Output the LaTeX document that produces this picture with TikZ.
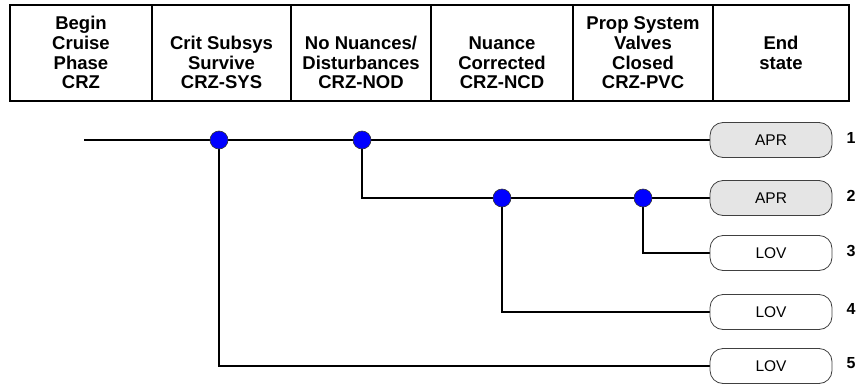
\documentclass[tikz,border=0pt]{standalone}
\usepackage{fontspec}
\setmainfont{Liberation Sans}
\usetikzlibrary{positioning}
\pgfdeclarelayer{bg}
\pgfsetlayers{bg,main}
\newcommand\hstrut{\rule{0pt}{14pt}}
\begin{document}
\begin{tikzpicture}[x=1pt,y=-1pt,
  hframe/.style={draw=black,line width=2.6pt},
  hdr/.style={font=\fontsize{18.5}{19.7}\selectfont\bfseries,align=center,anchor=north,inner sep=0pt},
  branch/.style={draw=black,line width=2pt},
  evdot/.style={circle,draw=black!80,line width=0.6pt,fill=blue,minimum size=18pt,inner sep=0pt},
  endbox/.style={draw=black!75,line width=0.8pt,rounded corners=13pt,minimum width=122pt,minimum height=35pt,inner sep=0pt,font=\fontsize{15.5}{17}\selectfont},
  aprbox/.style={endbox,fill=black!10},
  lovbox/.style={endbox,fill=white},
  seqnum/.style={font=\fontsize{16}{18}\selectfont\bfseries,inner sep=0pt}]
\useasboundingbox (0,0) rectangle (857,383);
% header table
\draw[hframe] (10,5) rectangle (849,101);
\foreach \xx in {152,291,431,573,713} \draw[hframe] (\xx,5) -- (\xx,101);
\node[hdr] (h1) at (81,15.5) {\hstrut Begin\\Cruise\\Phase\\CRZ};
\node[hdr] (h2) at (221.5,35.2) {\hstrut Crit Subsys\\Survive\\CRZ-SYS};
\node[hdr] (h3) at (361,35.2) {\hstrut No Nuances/\\Disturbances\\CRZ-NOD};
\node[hdr] (h4) at (502,35.2) {\hstrut Nuance\\Corrected\\CRZ-NCD};
\node[hdr] (h5) at (643,15.5) {\hstrut Prop System\\Valves\\Closed\\CRZ-PVC};
\node[hdr] (h6) at (781,35.2) {\hstrut End\\state};
% event tree
\coordinate (start) at (84,140);
\node[evdot] (n1) at (219,140) {};
\node[evdot] (n2) at (362,140) {};
\node[evdot] (n3) at (502,198) {};
\node[evdot] (n4) at (643,198) {};
\node[aprbox] (e1) at (771,140) {APR};
\node[aprbox] (e2) at (771,198) {APR};
\node[lovbox] (e3) at (771,253) {LOV};
\node[lovbox] (e4) at (771,312) {LOV};
\node[lovbox] (e5) at (771,366) {LOV};
\node[seqnum] (s1) at (851,138) {1};
\node[seqnum] (s2) at (851,196) {2};
\node[seqnum] (s3) at (851,251) {3};
\node[seqnum] (s4) at (851,309) {4};
\node[seqnum] (s5) at (851,363) {5};
\begin{pgfonlayer}{bg}
\draw[branch] (start) -- (e1.west);
\draw[branch] (n2.center) |- (n3.center) -- (n4.center) -- (e2.west);
\draw[branch] (n4.center) |- (e3.west);
\draw[branch] (n3.center) |- (e4.west);
\draw[branch] (n1.center) |- (e5.west);
\end{pgfonlayer}
\end{tikzpicture}
\end{document}
